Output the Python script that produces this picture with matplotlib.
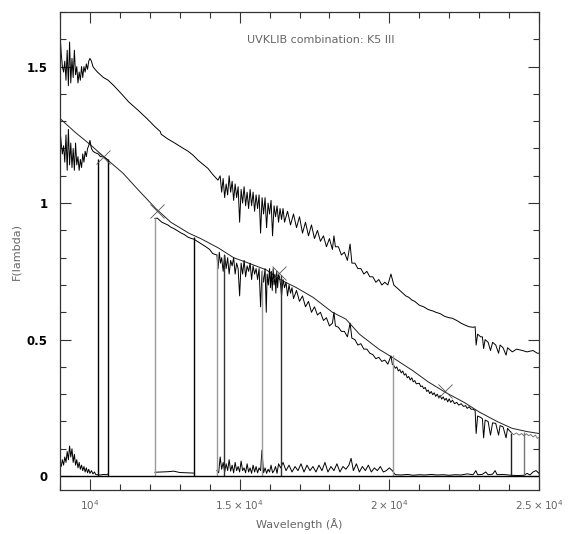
import numpy as np
import matplotlib
matplotlib.use("Agg")
import matplotlib.pyplot as plt
from matplotlib.ticker import FixedLocator, MultipleLocator

# ---------------- data ----------------
upper_wl = [9000, 9040, 9080, 9120, 9160, 9200, 9240, 9280, 9320, 9360, 9400, 9440, 9480, 9520,
            9560, 9600, 9640, 9680, 9720, 9760, 9800, 9840, 9880, 9920, 9960, 10000, 10050, 10100,
            10170, 10250, 10350, 10450, 10610, 10800, 11055, 11300, 11610, 11900, 12170, 12350,
            12380, 12600, 12833, 13050, 13277, 13450, 13610, 13800, 13943, 14100, 14277,
            14350, 14400, 14450, 14500, 14550, 14600, 14650, 14700, 14750, 14800, 14850, 14900,
            14950, 15000, 15050, 15100, 15150, 15200, 15250, 15300, 15350, 15400, 15450, 15500,
            15550, 15600, 15650, 15700, 15750, 15800, 15850, 15900, 15950, 16000, 16050, 16100,
            16150, 16200, 16250, 16300, 16350, 16400, 16450, 16500, 16600, 16700, 16800, 16900,
            17000, 17100, 17200, 17300, 17400, 17500, 17600, 17700, 17800, 17900, 18000, 18100,
            18150, 18200, 18300, 18400, 18500, 18600, 18690, 18750, 18850, 18950, 19050, 19150,
            19250, 19350, 19450, 19550, 19650, 19750, 19850, 19950, 20055, 20150, 20250, 20350,
            20450, 20550, 20650, 20750, 20850, 21000, 21150, 21300, 21450, 21555, 21700, 21850,
            22000, 22110, 22250, 22400, 22550, 22667, 22800, 22867, 22900, 22950, 23050, 23110,
            23150, 23200, 23300, 23380, 23450, 23555, 23650, 23700, 23800, 23900, 23950, 24110,
            24250, 24443, 24600, 24800, 24943, 25000]
upper_flux = [1.62, 1.55, 1.50, 1.48, 1.52, 1.45, 1.56, 1.43, 1.59, 1.44, 1.53, 1.46, 1.56, 1.47,
              1.50, 1.44, 1.48, 1.45, 1.50, 1.46, 1.50, 1.48, 1.51, 1.49, 1.52, 1.53, 1.52, 1.50,
              1.49, 1.48, 1.47, 1.46, 1.45, 1.43, 1.40, 1.37, 1.34, 1.31, 1.28, 1.262,
              1.252, 1.235, 1.22, 1.205, 1.19, 1.175, 1.157, 1.14, 1.127, 1.105, 1.084,
              1.10, 1.04, 1.09, 1.02, 1.07, 1.03, 1.10, 1.04, 1.08, 1.01, 1.07, 1.02,
              1.06, 0.93, 1.05, 1.00, 1.06, 0.99, 1.04, 0.98, 1.05, 0.99, 1.04, 0.97,
              1.03, 0.98, 1.03, 0.89, 1.02, 0.96, 1.02, 0.91, 1.00, 0.96, 1.01, 0.88,
              0.99, 0.95, 0.99, 0.93, 0.98, 0.94, 0.98, 0.93, 0.97, 0.92, 0.96, 0.91,
              0.95, 0.89, 0.93, 0.88, 0.92, 0.87, 0.90, 0.86, 0.88, 0.84, 0.87, 0.83,
              0.88, 0.84, 0.84, 0.81, 0.82, 0.79, 0.85, 0.78, 0.78, 0.76, 0.76, 0.74,
              0.75, 0.73, 0.73, 0.71, 0.72, 0.70, 0.71, 0.70, 0.74, 0.70, 0.69, 0.68,
              0.67, 0.66, 0.655, 0.645, 0.64, 0.626, 0.62, 0.61, 0.605, 0.60, 0.595, 0.585,
              0.58, 0.578, 0.57, 0.56, 0.552, 0.547, 0.545, 0.547, 0.48, 0.52, 0.51, 0.51,
              0.467, 0.50, 0.49, 0.46, 0.49, 0.48, 0.45, 0.48, 0.47, 0.443, 0.47, 0.455,
              0.465, 0.46, 0.455, 0.46, 0.45, 0.45]

lower_wl = [9000, 9040, 9080, 9120, 9160, 9200, 9240, 9280, 9320, 9360, 9400, 9440, 9480, 9520,
            9560, 9600, 9640, 9680, 9720, 9760, 9800, 9840, 9880, 9920, 9960, 10000, 10050, 10100,
            10170, 10277, 10350, 10443, 10520, 10610, 11400,
            12170, 12250, 12300, 12400, 12500, 12600, 12700, 12833, 12950, 13050, 13150, 13277,
            13400, 13470, 13700, 13900, 14000, 14100,
            14240, 14280, 14320, 14360, 14400, 14450, 14500, 14550, 14600, 14650, 14700, 14750,
            14800, 14850, 14900, 14950, 15000, 15050, 15100, 15150, 15200, 15250, 15300, 15350,
            15400, 15450, 15500, 15550, 15600, 15650, 15700, 15750, 15800, 15850, 15890, 15920,
            15960, 16000, 16030, 16060, 16090, 16120, 16150, 16180, 16210, 16240, 16270, 16300,
            16330, 16370, 16400, 16450, 16500, 16550, 16600, 16650, 16700, 16750, 16800, 16900,
            17000, 17100, 17200, 17300, 17400, 17500, 17600, 17700, 17800, 17900, 18000, 18100,
            18150, 18200, 18300, 18400, 18500, 18600, 18690, 18750, 18850, 18950, 19050, 19150,
            19250, 19350, 19450, 19550, 19650, 19750, 19850, 19950, 20055, 20100, 20150, 20200,
            20250, 20300, 20350, 20400, 20450, 20500, 20550, 20600, 20650, 20700, 20750, 20800,
            20850, 20900, 21000, 21050, 21100, 21150, 21200, 21250, 21300, 21350, 21400, 21450,
            21500, 21550, 21600, 21650, 21700, 21750, 21800, 21850, 21900, 21950, 22000, 22050,
            22110, 22180, 22250, 22320, 22400, 22480, 22550, 22600, 22667, 22730, 22800, 22867,
            22900, 22950, 23050, 23110, 23150, 23200, 23300, 23380, 23450, 23555, 23650, 23700,
            23800, 23900, 23950, 24000, 24070]
lower_flux = [1.27, 1.22, 1.18, 1.21, 1.15, 1.25, 1.12, 1.27, 1.14, 1.22, 1.13, 1.20, 1.12, 1.22,
              1.14, 1.17, 1.12, 1.16, 1.13, 1.18, 1.15, 1.19, 1.17, 1.20, 1.21, 1.23, 1.20, 1.19,
              1.185, 1.18, 1.17, 1.17, 1.165, 1.157, np.nan,
              0.944, 0.945, 0.94, 0.93, 0.925, 0.92, 0.912, 0.905, 0.897, 0.89, 0.885, 0.875,
              0.87, 0.868, 0.852, 0.838, 0.83, 0.815,
              0.81, 0.76, 0.82, 0.78, 0.80, 0.75, 0.81, 0.76, 0.80, 0.74, 0.79, 0.77,
              0.80, 0.74, 0.78, 0.76, 0.66, 0.78, 0.74, 0.79, 0.73, 0.77, 0.75, 0.78,
              0.72, 0.77, 0.74, 0.76, 0.72, 0.76, 0.62, 0.75, 0.71, 0.76, 0.60, 0.74,
              0.70, 0.76, 0.69, 0.75, 0.68, 0.76, 0.70, 0.74, 0.67, 0.75, 0.69, 0.74,
              0.73, 0.70, 0.66, 0.72, 0.69, 0.71, 0.66, 0.70, 0.67, 0.69, 0.65, 0.68,
              0.64, 0.66, 0.62, 0.64, 0.60, 0.62, 0.59, 0.60, 0.57, 0.58, 0.55, 0.56,
              0.60, 0.55, 0.545, 0.53, 0.53, 0.51, 0.56, 0.505, 0.50, 0.48, 0.485, 0.465,
              0.465, 0.45, 0.445, 0.43, 0.435, 0.42, 0.425, 0.41, 0.44, 0.41, 0.405, 0.395,
              0.40, 0.385, 0.39, 0.378, 0.385, 0.37, 0.375, 0.36, 0.365, 0.352, 0.36, 0.345,
              0.35, 0.338, 0.34, 0.328, 0.33, 0.32, 0.325, 0.31, 0.315, 0.302, 0.31, 0.298,
              0.305, 0.292, 0.30, 0.288, 0.295, 0.282, 0.29, 0.278, 0.285, 0.272, 0.283, 0.27,
              0.278, 0.265, 0.27, 0.26, 0.265, 0.255, 0.258, 0.248, 0.254, 0.245, 0.245, 0.24,
              0.156, 0.22, 0.215, 0.21, 0.14, 0.205, 0.20, 0.15, 0.195, 0.193, 0.15, 0.185,
              0.18, 0.14, 0.175, 0.168, 0.16]

# last piece of the combined spectrum (drawn grey in the reference)
tail_wl = [24070, 24150, 24250, 24333, 24420, 24500, 24580, 24650, 24730, 24800, 24880, 24943, 25000]
tail_flux = [0.16, 0.152, 0.158, 0.15, 0.156, 0.147, 0.155, 0.148, 0.152, 0.143, 0.15, 0.138, 0.142]

model_wl = [9000, 9500, 10000, 10600, 11100, 11600, 12200, 12700, 13300, 13700, 14300, 14800,
            15300, 15900, 16350, 16900, 17450, 18100, 18550, 19000, 19650, 20100, 20800, 21300,
            21900, 22500, 23000, 23600, 24100, 24600, 25000]
model_flux = [1.31, 1.26, 1.215, 1.157, 1.11, 1.05, 0.98, 0.93, 0.89, 0.87, 0.835, 0.80,
              0.78, 0.755, 0.72, 0.69, 0.655, 0.60, 0.575, 0.52, 0.465, 0.435, 0.385, 0.345,
              0.305, 0.27, 0.235, 0.20, 0.175, 0.163, 0.156]

noise_wl = [9000, 9040, 9080, 9120, 9160, 9200, 9240, 9280, 9320, 9360, 9400, 9440, 9480, 9520,
            9560, 9600, 9640, 9680, 9720, 9760, 9800, 9840, 9880, 9920, 9960, 10000, 10050, 10100,
            10150, 10200, 10277, 10350, 10450, 10550, 10610, 11400,
            12170, 12400, 12600, 12800, 13000, 13200, 13470, 13800,
            14240, 14300, 14350, 14400, 14450, 14500, 14550, 14600, 14650, 14700, 14750, 14800,
            14850, 14900, 14950, 15000, 15050, 15100, 15150, 15200, 15250, 15300, 15350, 15400,
            15450, 15500, 15550, 15600, 15650, 15700, 15745, 15800, 15850, 15900, 15950, 16000,
            16050, 16100, 16150, 16200, 16250, 16300, 16370, 16450, 16550, 16650, 16750, 16850,
            16950, 17050, 17150, 17250, 17350, 17450, 17550, 17650, 17750, 17850, 17950, 18050,
            18150, 18250, 18350, 18450, 18550, 18650, 18723, 18800, 18900, 19000, 19100, 19200,
            19300, 19400, 19500, 19600, 19700, 19800, 19900, 20000, 20100,
            20200, 20400, 20600, 20800, 21000, 21200, 21400, 21600, 21800, 22000, 22200, 22400,
            22600, 22800, 22890, 22950, 23100, 23222, 23300, 23450, 23533, 23600, 23800, 24000,
            24070, 24300, 24500, 24600, 24700, 24800, 24900, 25000]
noise_flux = [0.05, 0.035, 0.06, 0.04, 0.07, 0.05, 0.09, 0.06, 0.11, 0.07, 0.10, 0.05, 0.08, 0.04,
              0.06, 0.03, 0.05, 0.025, 0.04, 0.02, 0.035, 0.015, 0.03, 0.012, 0.025, 0.01, 0.02, 0.008,
              0.015, 0.005, 0.005, 0.004, 0.006, 0.005, 0.008, np.nan,
              0.014, 0.015, 0.016, 0.018, 0.013, 0.012, 0.011, np.nan,
              0.02, 0.012, 0.07, 0.025, 0.05, 0.015, 0.045, 0.02, 0.06, 0.018, 0.04, 0.012,
              0.05, 0.02, 0.035, 0.015, 0.055, 0.02, 0.03, 0.012, 0.045, 0.015, 0.03, 0.01,
              0.04, 0.015, 0.035, 0.012, 0.03, 0.02, 0.095, 0.012, 0.03, 0.01, 0.025, 0.015,
              0.04, 0.012, 0.02, 0.035, 0.01, 0.045, 0.03, 0.05, 0.02, 0.04, 0.015, 0.035,
              0.02, 0.045, 0.015, 0.04, 0.02, 0.035, 0.015, 0.04, 0.02, 0.05, 0.015, 0.035,
              0.02, 0.045, 0.015, 0.035, 0.025, 0.04, 0.065, 0.02, 0.045, 0.015, 0.035, 0.02,
              0.04, 0.015, 0.03, 0.02, 0.035, 0.015, 0.02, 0.03, 0.02,
              0.005, 0.004, 0.006, 0.003, 0.005, 0.004, 0.006, 0.004, 0.005, 0.003, 0.005, 0.004,
              0.008, 0.005, 0.02, 0.005, 0.006, 0.015, 0.005, 0.007, 0.02, 0.005, 0.006, 0.004,
              0.003, 0.002, 0.003, 0.01, 0.004, 0.015, 0.02, 0.01]

seg_wl = [10277, 10610, 12170, 13477, 14250, 14470, 15745, 16370, 20110, 24080, 24500, 24990]
seg_top = [1.163, 1.16, 0.944, 0.877, 0.815, 0.81, 0.755, 0.736, 0.443, 0.156, 0.16, 0.14]
seg_color = ["black", "black", "#9a9a9a", "black", "#9a9a9a", "#333333", "#9a9a9a", "#333333",
             "#9a9a9a", "#222222", "#777777", "black"]

knot_wl = [10443, 12230, 16330, 21870]
knot_flux = [1.17, 0.97, 0.745, 0.31]

title_text = "UVKLIB combination: K5 III"
xtick_vals = [10000, 15000, 20000, 25000]
xtick_labels = [r"$10^4$", r"$1.5\times10^4$", r"$2\times10^4$", r"$2.5\times10^4$"]
ytick_vals = [0, 0.5, 1, 1.5]
ytick_labels = ["0", "0.5", "1", "1.5"]

# ---------------- figure ----------------
fig = plt.figure(figsize=(5.70, 5.34), dpi=100)
ax = fig.add_axes([60 / 570, 44 / 534, 479 / 570, 478 / 534])

lw = 0.7
ax.plot(upper_wl, upper_flux, color="black", lw=lw)
ax.plot(model_wl, model_flux, color="#222222", lw=lw)
ax.plot(lower_wl, lower_flux, color="black", lw=lw)
ax.plot(tail_wl, tail_flux, color="#777777", lw=lw)
ax.plot(noise_wl, noise_flux, color="black", lw=lw)
ax.vlines(seg_wl, 0, seg_top, colors=seg_color, lw=1.0)
ax.axhline(0, color="black", lw=1.0)
ax.plot(knot_wl, knot_flux, linestyle="none", marker="x", markersize=10,
        markeredgewidth=0.6, color="#555555")

ax.set_xlim(9000, 25000)
ax.set_ylim(-0.051, 1.70)

ax.xaxis.set_major_locator(FixedLocator(xtick_vals))
ax.set_xticklabels(xtick_labels, color="#666666", fontsize=7.5)
ax.xaxis.set_minor_locator(MultipleLocator(1000))
ax.yaxis.set_major_locator(FixedLocator(ytick_vals))
ax.set_yticklabels(ytick_labels, color="black", fontsize=8.5, fontweight="bold")
ax.yaxis.set_minor_locator(MultipleLocator(0.1))

ax.tick_params(which="both", direction="in", top=True, right=True, color="#333333")
ax.tick_params(which="major", length=8, width=0.8)
ax.tick_params(which="minor", length=4, width=0.8)
ax.tick_params(axis="x", which="major", pad=6)
ax.tick_params(axis="y", which="major", pad=9)

for s in ax.spines.values():
    s.set_linewidth(0.9)
    s.set_color("#333333")

ax.set_xlabel("Wavelength (Å)", color="#666666", fontsize=8, labelpad=4)
ax.set_ylabel("F(lambda)", color="#666666", fontsize=8, labelpad=4)
ax.text(0.545, 0.941, title_text, transform=ax.transAxes, ha="center", va="center",
        color="#666666", fontsize=8)

fig.savefig("out.png", dpi=100)
